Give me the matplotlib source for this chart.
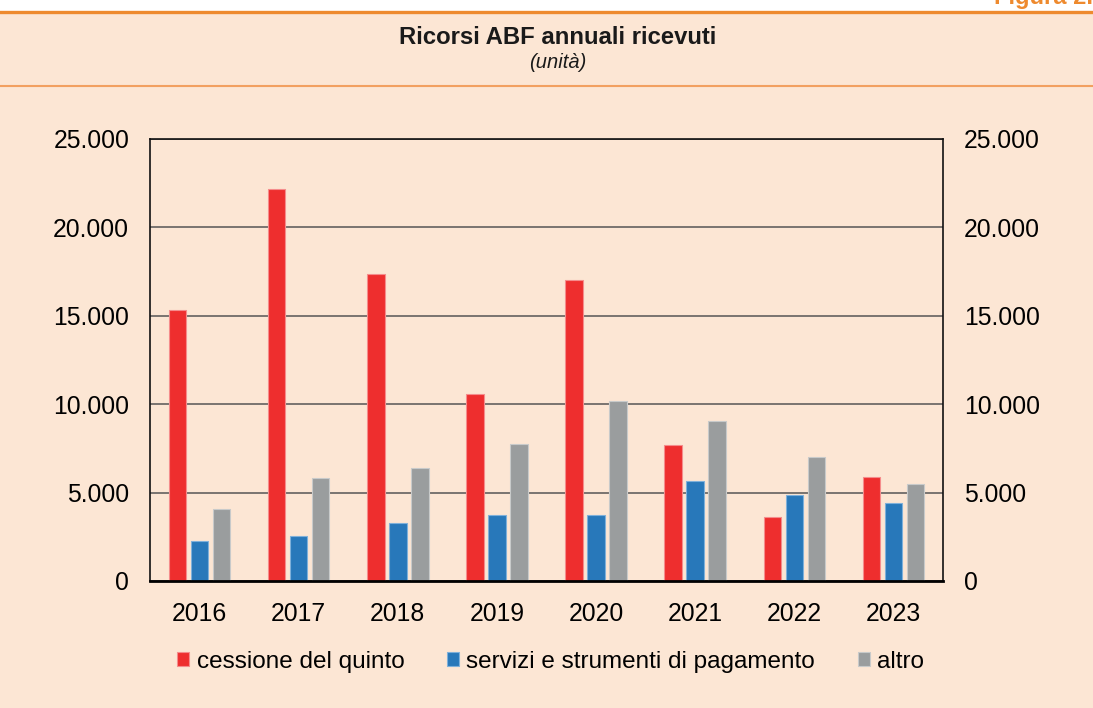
import numpy as np
import matplotlib
matplotlib.use("Agg")
import matplotlib.pyplot as plt
from matplotlib.patches import Rectangle
from matplotlib.ticker import FuncFormatter

plt.rcParams['font.family'] = ['Liberation Sans', 'DejaVu Sans']

# data
years = ["2016", "2017", "2018", "2019", "2020", "2021", "2022", "2023"]
cessione = [15300, 22200, 17350, 10550, 17000, 7700, 3600, 5900]
servizi = [2250, 2550, 3300, 3750, 3750, 5650, 4850, 4430]
altro = [4050, 5850, 6400, 7750, 10180, 9070, 7030, 5470]
series_names = ["cessione del quinto", "servizi e strumenti di pagamento", "altro"]

colors = ["#EE2E2E", "#2878BA", "#9A9D9E"]
edges = ["#F58C8C", "#7FB0DA", "#C8CACA"]
bg = "#FCE6D4"
orange = "#EE8A2E"

fig = plt.figure(figsize=(10.93, 7.08), dpi=100)
fig.patch.set_facecolor("white")

H = 708.0
# peach panel behind everything
fig.patches.append(Rectangle((0, 0), 1, (H - 12) / H, transform=fig.transFigure,
                             facecolor=bg, edgecolor="none", zorder=-5))
fig.add_artist(plt.Line2D([0, 1], [1 - 12 / H] * 2, color=orange, lw=2.4))
fig.add_artist(plt.Line2D([0, 1], [1 - 86 / H] * 2, color="#F2A060", lw=1.5))

fig.text(1.0, 1 - 4 / H, "Figura 2.", ha="right", va="baseline", fontsize=17,
         fontweight="bold", color=orange)
fig.text(0.510, 1 - 38 / H, "Ricorsi ABF annuali ricevuti", ha="center", va="center",
         fontsize=17.2, fontweight="bold", color="#1a1a1a")
fig.text(0.510, 1 - 63 / H, "(unità)", ha="center", va="center",
         fontsize=14.5, style="italic", color="#1a1a1a")

ax = fig.add_axes([150 / 1093, (H - 581) / H, 793 / 1093, 442 / H])
ax.set_facecolor(bg)

x = np.arange(len(years))
w = 0.177
step = 0.222
for i, (vals, name) in enumerate(zip([cessione, servizi, altro], series_names)):
    ax.bar(x + (i - 1) * step, vals, width=w, color=colors[i], edgecolor=edges[i],
           linewidth=0.8, label=name, zorder=3)

ax.set_xlim(-0.5, len(years) - 0.5)
ax.set_ylim(0, 25000)
ax.set_yticks(np.arange(0, 25001, 5000))
ax.yaxis.set_major_formatter(FuncFormatter(lambda v, p: f"{int(v):,}".replace(",", ".")))
ax.set_xticks(x)
ax.set_xticklabels(years)
ax.grid(axis="y", color="#555555", lw=1.1, zorder=1)
ax.tick_params(axis="y", length=0, labelsize=17.8, pad=15, labelright=True)
ax.tick_params(axis="x", length=0, labelsize=17.8, pad=15)
for s in ["left", "right", "top"]:
    ax.spines[s].set_linewidth(1.2)
    ax.spines[s].set_color("#111111")
ax.spines["bottom"].set_linewidth(2.0)
ax.spines["bottom"].set_zorder(4)

fig.legend(loc="center", bbox_to_anchor=(0.5037, 1 - 662 / H), ncol=3, frameon=False,
           fontsize=17.5, handlelength=0.5, handleheight=0.5, handletextpad=0.3,
           columnspacing=1.75)

fig.savefig("out.png", dpi=100, facecolor=fig.get_facecolor())
